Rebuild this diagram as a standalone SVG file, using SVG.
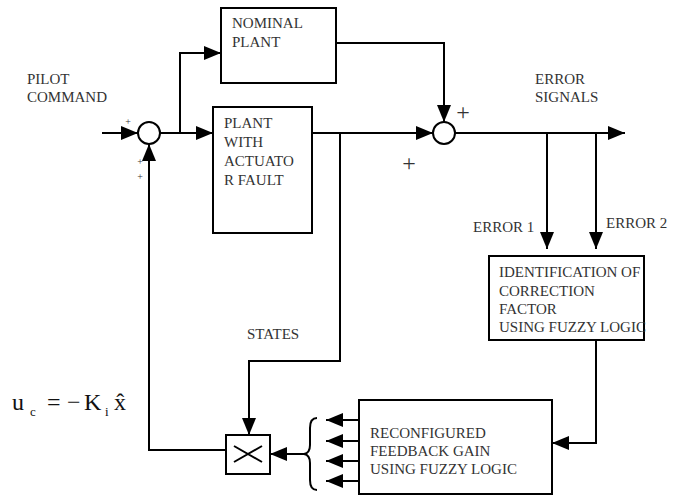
<svg xmlns="http://www.w3.org/2000/svg" width="684" height="496" viewBox="0 0 684 496">
<style>
.box{fill:#fff;stroke:#000;stroke-width:2}
.ln{fill:none;stroke:#000;stroke-width:2}
.arr{marker-end:url(#ah)}
.t{font-family:'Liberation Serif','Times New Roman',serif;font-size:15px;fill:#333}
.p{font-family:'Liberation Serif','Times New Roman',serif;fill:#333}
.eq{font-family:'Liberation Serif','Times New Roman',serif;fill:#111}
</style>
<defs>
<marker id="ah" markerUnits="userSpaceOnUse" markerWidth="17" markerHeight="14" refX="17" refY="7" orient="auto">
<path d="M0,0 L17,7 L0,14 z" fill="#000"/>
</marker>
</defs>
<rect width="684" height="496" fill="#fff"/>

<g id="connectors">
<path class="ln arr" d="M102,133 H138"/>
<path class="ln arr" d="M160,133 H213"/>
<path class="ln arr" d="M180,133 V53 H221"/>
<path class="ln arr" d="M336,43 H444 V122"/>
<path class="ln arr" d="M312,133 H433"/>
<path class="ln arr" d="M340,133 V361 H249 V435"/>
<path class="ln arr" d="M455,133 H625"/>
<path class="ln arr" d="M547,133 V249"/>
<path class="ln arr" d="M596,133 V249"/>
<path class="ln arr" d="M596,340 V443 H552"/>
<path class="ln arr" d="M359,420 H326"/>
<path class="ln arr" d="M359,441 H326"/>
<path class="ln arr" d="M359,461 H326"/>
<path class="ln arr" d="M359,481 H326"/>
<path class="ln" d="M317,418 Q310,418 310,428 L310,445 Q310,453 304,454 Q310,455 310,463 L310,480 Q310,490 317,490"/>
<path class="ln arr" d="M304,454 H270"/>
<path class="ln arr" d="M226,450 H149 V144"/>
</g>

<g id="sum1">
<circle cx="149" cy="133" r="11" class="box"/>
<text class="p" x="128" y="125" font-size="10" text-anchor="middle">+</text>
<text class="p" x="140" y="165" font-size="10" text-anchor="middle">+</text>
<text class="p" x="140" y="180" font-size="10" text-anchor="middle">+</text>
</g>

<g id="pilot-command">
<text class="t" x="27" y="84">PILOT</text>
<text class="t" x="27" y="102">COMMAND</text>
</g>

<g id="nominal-plant">
<rect x="221" y="8" width="115" height="75" class="box"/>
<text class="t" x="232" y="28">NOMINAL</text>
<text class="t" x="232" y="47">PLANT</text>
</g>

<g id="plant-fault">
<rect x="213" y="107" width="99" height="126" class="box"/>
<text class="t" x="224" y="128">PLANT</text>
<text class="t" x="224" y="147">WITH</text>
<text class="t" x="224" y="166">ACTUATO</text>
<text class="t" x="224" y="185">R FAULT</text>
</g>

<g id="sum2">
<circle cx="444" cy="133" r="11" class="box"/>
<text class="p" x="463" y="120" font-size="24" text-anchor="middle">+</text>
<text class="p" x="409" y="171" font-size="24" text-anchor="middle">+</text>
</g>

<g id="error-labels">
<text class="t" x="535" y="84">ERROR</text>
<text class="t" x="535" y="102">SIGNALS</text>
<text class="t" x="473" y="232">ERROR 1</text>
<text class="t" x="606" y="228">ERROR 2</text>
</g>

<g id="identification">
<rect x="489" y="256" width="155" height="84" class="box"/>
<text class="t" x="499" y="277">IDENTIFICATION OF</text>
<text class="t" x="499" y="296">CORRECTION</text>
<text class="t" x="499" y="314">FACTOR</text>
<text class="t" x="499" y="332">USING FUZZY LOGIC</text>
</g>

<g id="reconfigured">
<rect x="359" y="400" width="193" height="94" class="box"/>
<text class="t" x="370" y="438">RECONFIGURED</text>
<text class="t" x="370" y="456">FEEDBACK GAIN</text>
<text class="t" x="370" y="474">USING FUZZY LOGIC</text>
</g>

<g id="states-label">
<text class="t" x="247" y="339">STATES</text>
</g>

<g id="multiplier">
<rect x="226" y="435" width="44" height="39" class="box"/>
<path class="ln" d="M234,446 L262,462 M234,462 L262,446"/>
</g>

<g id="equation">
<text class="eq" x="12" y="410" font-size="24">u</text>
<text class="eq" x="30" y="416" font-size="13">c</text>
<text class="eq" x="47" y="410" font-size="24">=</text>
<text class="eq" x="67" y="410" font-size="24">−</text>
<text class="eq" x="84" y="410" font-size="24">K</text>
<text class="eq" x="105" y="416" font-size="13">i</text>
<text class="eq" x="114" y="410" font-size="24">x̂</text>
</g>
</svg>
